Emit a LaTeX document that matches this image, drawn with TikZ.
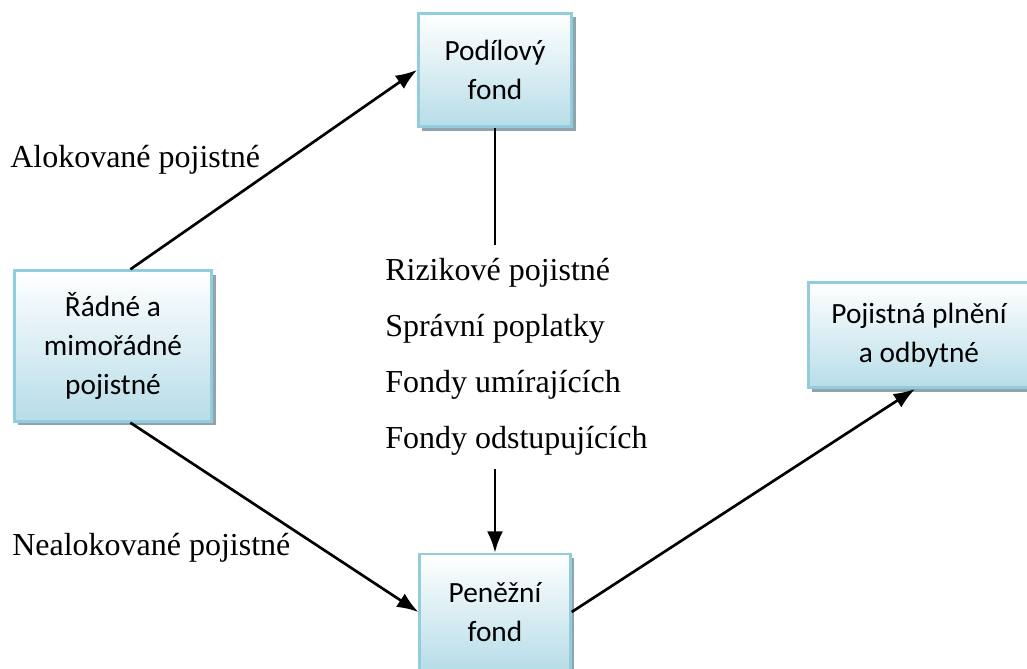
\documentclass[tikz,border=0pt]{standalone}
\usepackage{fontspec}
\setmainfont{Liberation Serif}
\newfontfamily\boxfont{Carlito}
\usetikzlibrary{arrows.meta, shadows, positioning}

\definecolor{boxline}{HTML}{93CDDD}
\definecolor{boxfill}{HTML}{B7DDE8}
\definecolor{boxshade}{HTML}{8FA5AD}

\begin{document}
\begin{tikzpicture}[x=0.75pt, y=-0.75pt,
    fund/.style={draw=boxline, line width=2pt, top color=white, bottom color=boxfill,
        drop shadow={shadow xshift=3pt, shadow yshift=-3pt, fill=boxshade, opacity=1},
        align=center, inner sep=0pt,
        font=\boxfont\fontsize{22}{29}\selectfont},
    lbl/.style={font=\fontsize{24}{42}\selectfont, inner sep=0pt},
    flow/.style={line width=2pt, -{Latex[length=16pt, width=12pt]}},
    auto]
    \useasboundingbox (0,0) rectangle (1027,668);

    \node [fund, minimum width=115pt, minimum height=85pt] (podil) at (495,70) {Podílový\\fond};
    \node [fund, minimum width=148pt, minimum height=113pt] (radne) at (113,346) {Řádné a\\mimořádné\\pojistné};
    \node [fund, minimum width=113pt, minimum height=87pt] (penez) at (495,612) {Peněžní\\fond};
    \node [fund, minimum width=166pt, minimum height=79pt] (plneni) at (919,335) {Pojistná plnění\\a odbytné};

    \node [lbl, anchor=base west] (alok) at (10,167) {Alokované pojistné};
    \node [lbl, anchor=base west] (nealok) at (12,555) {Nealokované pojistné};
    \node [lbl, align=left, anchor=north west, inner ysep=10pt] (srazky) at (385,245)
        {Rizikové pojistné\\Správní poplatky\\Fondy umírajících\\Fondy odstupujících};

    \path[flow]
        ([xshift=13pt]radne.north) edge (podil.west)
        ([xshift=13pt]radne.south) edge (penez.west)
        (penez.east) edge ([xshift=-3pt]plneni.south)
        (penez.north |- srazky.south) edge (penez.north);
    \draw [line width=2pt] (podil.south) -- (podil.south |- srazky.north);
\end{tikzpicture}
\end{document}
